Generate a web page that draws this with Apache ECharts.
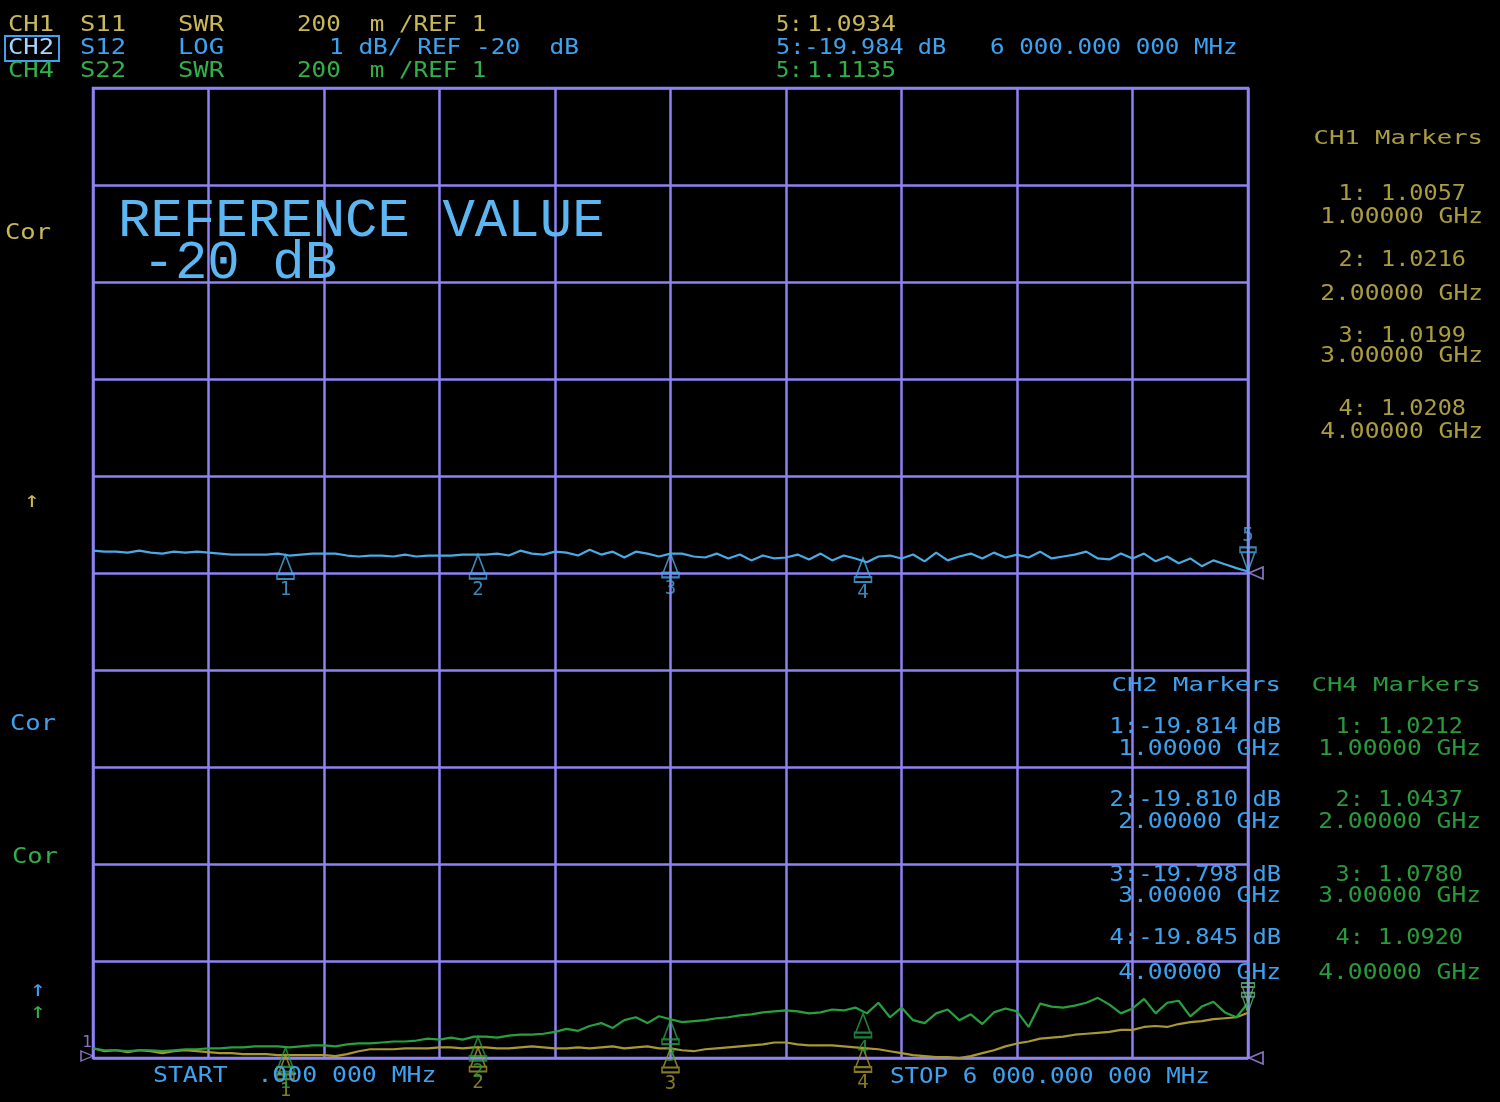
<!DOCTYPE html>
<html>
<head>
<meta charset="utf-8">
<script src="https://cdn.jsdelivr.net/npm/echarts@6/dist/echarts.min.js"></script>
<style>
html,body{margin:0;padding:0;background:#000;}
#chart{width:1500px;height:1102px;}
</style>
</head>
<body>
<div id="chart"></div>
<script>
// ---- sweep ----
const startMHz = 0;
const stopMHz = 6000;
const stepMHz = 60;

// ---- CH2 S12 LOG (dB), 101 points ----
const s12dB = [
  -19.77,-19.78,-19.78,-19.79,-19.77,-19.79,-19.80,-19.78,-19.79,-19.78,
  -19.79,-19.80,-19.81,-19.81,-19.81,-19.81,-19.80,-19.82,-19.81,-19.80,
  -19.80,-19.80,-19.82,-19.83,-19.82,-19.82,-19.83,-19.81,-19.83,-19.82,
  -19.82,-19.82,-19.81,-19.81,-19.81,-19.80,-19.82,-19.77,-19.80,-19.81,
  -19.78,-19.79,-19.82,-19.76,-19.81,-19.78,-19.84,-19.78,-19.80,-19.83,
  -19.80,-19.80,-19.83,-19.84,-19.80,-19.85,-19.81,-19.87,-19.82,-19.85,
  -19.84,-19.81,-19.86,-19.80,-19.87,-19.82,-19.85,-19.89,-19.83,-19.82,
  -19.85,-19.81,-19.88,-19.79,-19.87,-19.83,-19.80,-19.85,-19.79,-19.84,
  -19.81,-19.84,-19.78,-19.85,-19.83,-19.81,-19.78,-19.85,-19.86,-19.80,
  -19.85,-19.80,-19.88,-19.83,-19.90,-19.85,-19.93,-19.87,-19.91,-19.95,
  -19.984
];

// ---- CH4 S22 SWR, 101 points ----
const s22SWR = [
  1.020,1.016,1.016,1.014,1.016,1.016,1.014,1.016,1.018,1.018,
  1.020,1.020,1.022,1.022,1.024,1.024,1.024,1.022,1.024,1.026,
  1.026,1.024,1.028,1.030,1.030,1.032,1.034,1.034,1.036,1.040,
  1.038,1.042,1.038,1.044,1.044,1.042,1.046,1.048,1.048,1.050,
  1.054,1.060,1.056,1.066,1.072,1.062,1.078,1.084,1.072,1.086,
  1.080,1.074,1.076,1.078,1.082,1.084,1.088,1.090,1.094,1.096,
  1.098,1.096,1.092,1.094,1.100,1.098,1.104,1.092,1.114,1.084,
  1.104,1.078,1.072,1.092,1.100,1.078,1.090,1.070,1.094,1.102,
  1.096,1.064,1.112,1.106,1.104,1.108,1.114,1.124,1.110,1.092,
  1.102,1.122,1.092,1.114,1.118,1.086,1.106,1.116,1.094,1.084,
  1.1135
];

// ---- CH1 S11 SWR, 101 points ----
const s11SWR = [
  1.020,1.014,1.016,1.012,1.016,1.014,1.010,1.014,1.016,1.014,
  1.012,1.010,1.010,1.008,1.008,1.008,1.006,1.006,1.006,1.006,
  1.006,1.004,1.008,1.014,1.018,1.018,1.018,1.020,1.020,1.020,
  1.022,1.022,1.020,1.022,1.022,1.020,1.020,1.022,1.024,1.022,
  1.020,1.020,1.022,1.020,1.022,1.024,1.020,1.022,1.024,1.020,
  1.020,1.016,1.014,1.018,1.020,1.022,1.024,1.026,1.028,1.032,
  1.032,1.028,1.026,1.026,1.026,1.024,1.022,1.020,1.018,1.014,
  1.010,1.006,1.004,1.002,1.002,1.000,1.004,1.010,1.016,1.024,
  1.030,1.034,1.040,1.042,1.044,1.048,1.050,1.052,1.054,1.058,
  1.058,1.064,1.066,1.064,1.070,1.074,1.076,1.080,1.082,1.084,
  1.0934
];

// ---- markers ----
const markerGHz = [1, 2, 3, 4];
const ch1Markers = [1.0057, 1.0216, 1.0199, 1.0208];
const ch2Markers = [-19.814, -19.810, -19.798, -19.845];
const ch4Markers = [1.0212, 1.0437, 1.0780, 1.0920];
const marker5 = { freqMHz: 6000, ch1: 1.0934, ch2: -19.984, ch4: 1.1135 };

// ---- scales ----
const swrRef = 1, swrPerDiv = 0.2;
const dbRef = -20, dbPerDiv = 1;

const C = {
  grid: '#8e82f4',
  yel: '#c8b858', yelDim: '#aa9c40', yelTrace: '#a89830',
  blue: '#3ea2f0', blueTrace: '#4aaae6', blueRef: '#5cb6f2',
  green: '#32b04a', greenDim: '#2a9a3c', greenTrace: '#27a040'
};
const MONO = '"DejaVu Sans Mono", "Liberation Mono", monospace';

function pts(vals) { return vals.map((v, i) => [startMHz + i * stepMHz, v]); }

const chart = echarts.init(document.getElementById('chart'), null, { renderer: 'canvas' });

const triUp = 'path://M7,0 L1,16 L13,16 Z M0,16 L14,16 L14,20 L0,20 Z';
const triDown = 'path://M0,0 L14,0 L14,4 L0,4 Z M1,4 L13,4 L7,20 Z';

function markerSeries(name, vals, yIdx, color) {
  return {
    name: name, type: 'scatter', yAxisIndex: yIdx, z: 5,
    symbol: triUp, symbolSize: [17, 24], symbolOffset: [0, 12],
    itemStyle: { color: 'rgba(0,0,0,0)', borderColor: color, borderWidth: 1.8 },
    label: { show: true, position: 'bottom', distance: 1, color: color, fontFamily: MONO, fontSize: 19,
             formatter: p => p.name },
    data: markerGHz.map((g, i) => ({ name: String(i + 1), value: [g * 1000, vals[i]] })),
    silent: true, animation: false
  };
}

// text helper
function T(x, y, s, color, size, opt) {
  opt = opt || {};
  return {
    type: 'text', x: x, y: y, scaleX: opt.sx || 1.16, z: 10, silent: true,
    style: { text: s, fill: color, font: (opt.weight || 'normal') + ' ' + (size || 22) + 'px ' + (opt.font || MONO),
             textAlign: opt.align || 'left', textVerticalAlign: 'middle' }
  };
}

const graphics = [];
// header
graphics.push(T(8, 25, 'CH1', C.yel), T(80, 25, 'S11', C.yel), T(178, 25, 'SWR', C.yel), T(297, 25, '200  m /REF 1', C.yel, 22, { sx: 1.1 }));
graphics.push({ type: 'rect', shape: { x: 5, y: 36, width: 54, height: 25 }, z: 10, silent: true,
  style: { fill: 'rgba(0,0,0,0)', stroke: C.blue, lineWidth: 2 } });
graphics.push(T(8, 48, 'CH2', '#a6d6ff'), T(80, 48, 'S12', C.blue), T(178, 48, 'LOG', C.blue),
  T(329, 48, '1 dB/ REF ' + dbRef + '  dB', C.blue, 22, { sx: 1.11 }));
graphics.push(T(8, 71, 'CH4', C.green), T(80, 71, 'S22', C.green), T(178, 71, 'SWR', C.green), T(297, 71, '200  m /REF 1', C.green, 22, { sx: 1.1 }));
graphics.push(T(776, 25, '5:', C.yel, 22, { sx: 1.0 }), T(807, 25, marker5.ch1.toFixed(4), C.yel, 22, { sx: 1.12 }));
graphics.push(T(776, 48, '5:' + marker5.ch2.toFixed(3) + ' dB', C.blue, 22, { sx: 1.07 }));
graphics.push(T(990, 48, '6 000.000 000 MHz', C.blue, 22, { sx: 1.1 }));
graphics.push(T(776, 71, '5:', C.green, 22, { sx: 1.0 }), T(807, 71, marker5.ch4.toFixed(4), C.green, 22, { sx: 1.12 }));

// left annotations
graphics.push(T(5, 233, 'Cor', C.yel), T(24, 501, '↑', C.yel));
graphics.push(T(10, 724, 'Cor', C.blue), T(12, 857, 'Cor', C.green));
graphics.push(T(30, 990, '↑', C.blue), T(30, 1012, '↑', C.green));

// reference value text
graphics.push(T(118, 222, 'REFERENCE VALUE', C.blueRef, 53, { sx: 1.02, font: '"Liberation Mono", monospace' }));
graphics.push(T(110, 264, ' ' + dbRef + ' dB', C.blueRef, 53, { sx: 1.02, font: '"Liberation Mono", monospace' }));

// marker panels
graphics.push(T(1483, 139, 'CH1 Markers', C.yelDim, 20, { align: 'right', sx: 1.28 }));
const ch1Y = [[195, 218], [261, 295], [337, 357], [410, 433]];
ch1Markers.forEach((v, i) => {
  graphics.push(T(1466, ch1Y[i][0], (i + 1) + ': ' + v.toFixed(4), C.yelDim, 21, { align: 'right', sx: 1.12 }));
  graphics.push(T(1483, ch1Y[i][1], markerGHz[i].toFixed(5) + ' GHz', C.yelDim, 21, { align: 'right', sx: 1.17 }));
});
graphics.push(T(1281, 686, 'CH2 Markers', C.blue, 20, { align: 'right', sx: 1.28 }));
graphics.push(T(1481, 686, 'CH4 Markers', C.greenDim, 20, { align: 'right', sx: 1.28 }));
const ch2Y = [[728, 750], [801, 823], [876, 897], [939, 974]];
ch2Markers.forEach((v, i) => {
  graphics.push(T(1281, ch2Y[i][0], (i + 1) + ':' + v.toFixed(3) + ' dB', C.blue, 21, { align: 'right', sx: 1.13 }));
  graphics.push(T(1281, ch2Y[i][1], markerGHz[i].toFixed(5) + ' GHz', C.blue, 21, { align: 'right', sx: 1.17 }));
});
ch4Markers.forEach((v, i) => {
  graphics.push(T(1463, ch2Y[i][0], (i + 1) + ': ' + v.toFixed(4), C.greenDim, 21, { align: 'right', sx: 1.12 }));
  graphics.push(T(1481, ch2Y[i][1], markerGHz[i].toFixed(5) + ' GHz', C.greenDim, 21, { align: 'right', sx: 1.17 }));
});

// start / stop
graphics.push(T(153, 1077, 'START  .000 000 MHz', C.blue, 21, { sx: 1.18 }));
graphics.push(T(890, 1078, 'STOP 6 000.000 000 MHz', C.blue, 21, { sx: 1.15 }));

const option = {
  backgroundColor: '#000',
  animation: false,
  grid: { left: 93, top: 88, width: 1155, height: 970, show: true, borderColor: C.grid, borderWidth: 2.5, backgroundColor: 'transparent' },
  xAxis: {
    type: 'value', min: startMHz, max: stopMHz, interval: 600,
    axisLine: { show: false }, axisTick: { show: false }, axisLabel: { show: false },
    splitLine: { show: true, lineStyle: { color: C.grid, width: 2.5 } }
  },
  yAxis: [
    { type: 'value', min: swrRef, max: swrRef + 10 * swrPerDiv, interval: swrPerDiv,
      axisLine: { show: false }, axisTick: { show: false }, axisLabel: { show: false },
      splitLine: { show: true, lineStyle: { color: C.grid, width: 2.5 } } },
    { type: 'value', min: dbRef - 5 * dbPerDiv, max: dbRef + 5 * dbPerDiv, interval: dbPerDiv,
      axisLine: { show: false }, axisTick: { show: false }, axisLabel: { show: false },
      splitLine: { show: false } }
  ],
  series: [
    { name: 'CH1 S11', type: 'line', yAxisIndex: 0, data: pts(s11SWR), showSymbol: false, z: 3,
      lineStyle: { color: C.yelTrace, width: 2.2 } },
    { name: 'CH4 S22', type: 'line', yAxisIndex: 0, data: pts(s22SWR), showSymbol: false, z: 3,
      lineStyle: { color: C.greenTrace, width: 2.2 } },
    { name: 'CH2 S12', type: 'line', yAxisIndex: 1, data: pts(s12dB), showSymbol: false, z: 4,
      lineStyle: { color: C.blueTrace, width: 2.2 } },
    markerSeries('CH1 markers', ch1Markers, 0, C.yelTrace),
    markerSeries('CH4 markers', ch4Markers, 0, C.greenTrace),
    markerSeries('CH2 markers', ch2Markers, 1, C.blueTrace),
    { name: 'CH2 marker 5', type: 'scatter', yAxisIndex: 1, z: 5, silent: true,
      symbol: triDown, symbolSize: [16, 24], symbolOffset: [0, -12],
      itemStyle: { color: 'rgba(0,0,0,0)', borderColor: C.blueTrace, borderWidth: 1.8 },
      label: { show: true, position: 'top', distance: 1, color: C.blueTrace, fontFamily: MONO, fontSize: 19, formatter: '5' },
      data: [[marker5.freqMHz, marker5.ch2]] },
    { name: 'SWR marker 5', type: 'scatter', yAxisIndex: 0, z: 5, silent: true,
      symbol: triDown, symbolSize: [13, 20], symbolOffset: [0, -10],
      itemStyle: { color: 'rgba(0,0,0,0)', borderColor: '#6ab880', borderWidth: 1.5 },
      data: [[marker5.freqMHz, marker5.ch4], [marker5.freqMHz, marker5.ch1]] },
    { name: 'ref dB', type: 'scatter', yAxisIndex: 1, z: 6, silent: true,
      symbol: 'triangle', symbolRotate: 90, symbolSize: [12, 14], symbolOffset: [8, 0],
      itemStyle: { color: 'rgba(0,0,0,0)', borderColor: '#a890f0', borderWidth: 1.6 },
      data: [[stopMHz, dbRef]] },
    { name: 'ref SWR', type: 'scatter', yAxisIndex: 0, z: 6, silent: true,
      symbol: 'triangle', symbolRotate: 90, symbolSize: [12, 14], symbolOffset: [8, 0],
      itemStyle: { color: 'rgba(0,0,0,0)', borderColor: '#a890f0', borderWidth: 1.6 },
      data: [[stopMHz, swrRef]] },
    { name: 'ref SWR left', type: 'scatter', yAxisIndex: 0, z: 6, silent: true,
      symbol: 'triangle', symbolRotate: -90, symbolSize: [10, 12], symbolOffset: [-6, -2],
      itemStyle: { color: 'rgba(0,0,0,0)', borderColor: '#a890f0', borderWidth: 1.4 },
      label: { show: true, position: 'top', distance: 0, color: '#a890f0', fontFamily: MONO, fontSize: 16, formatter: '1' },
      data: [[startMHz, swrRef]] }
  ],
  graphic: graphics
};
chart.setOption(option);
</script>
</body>
</html>
